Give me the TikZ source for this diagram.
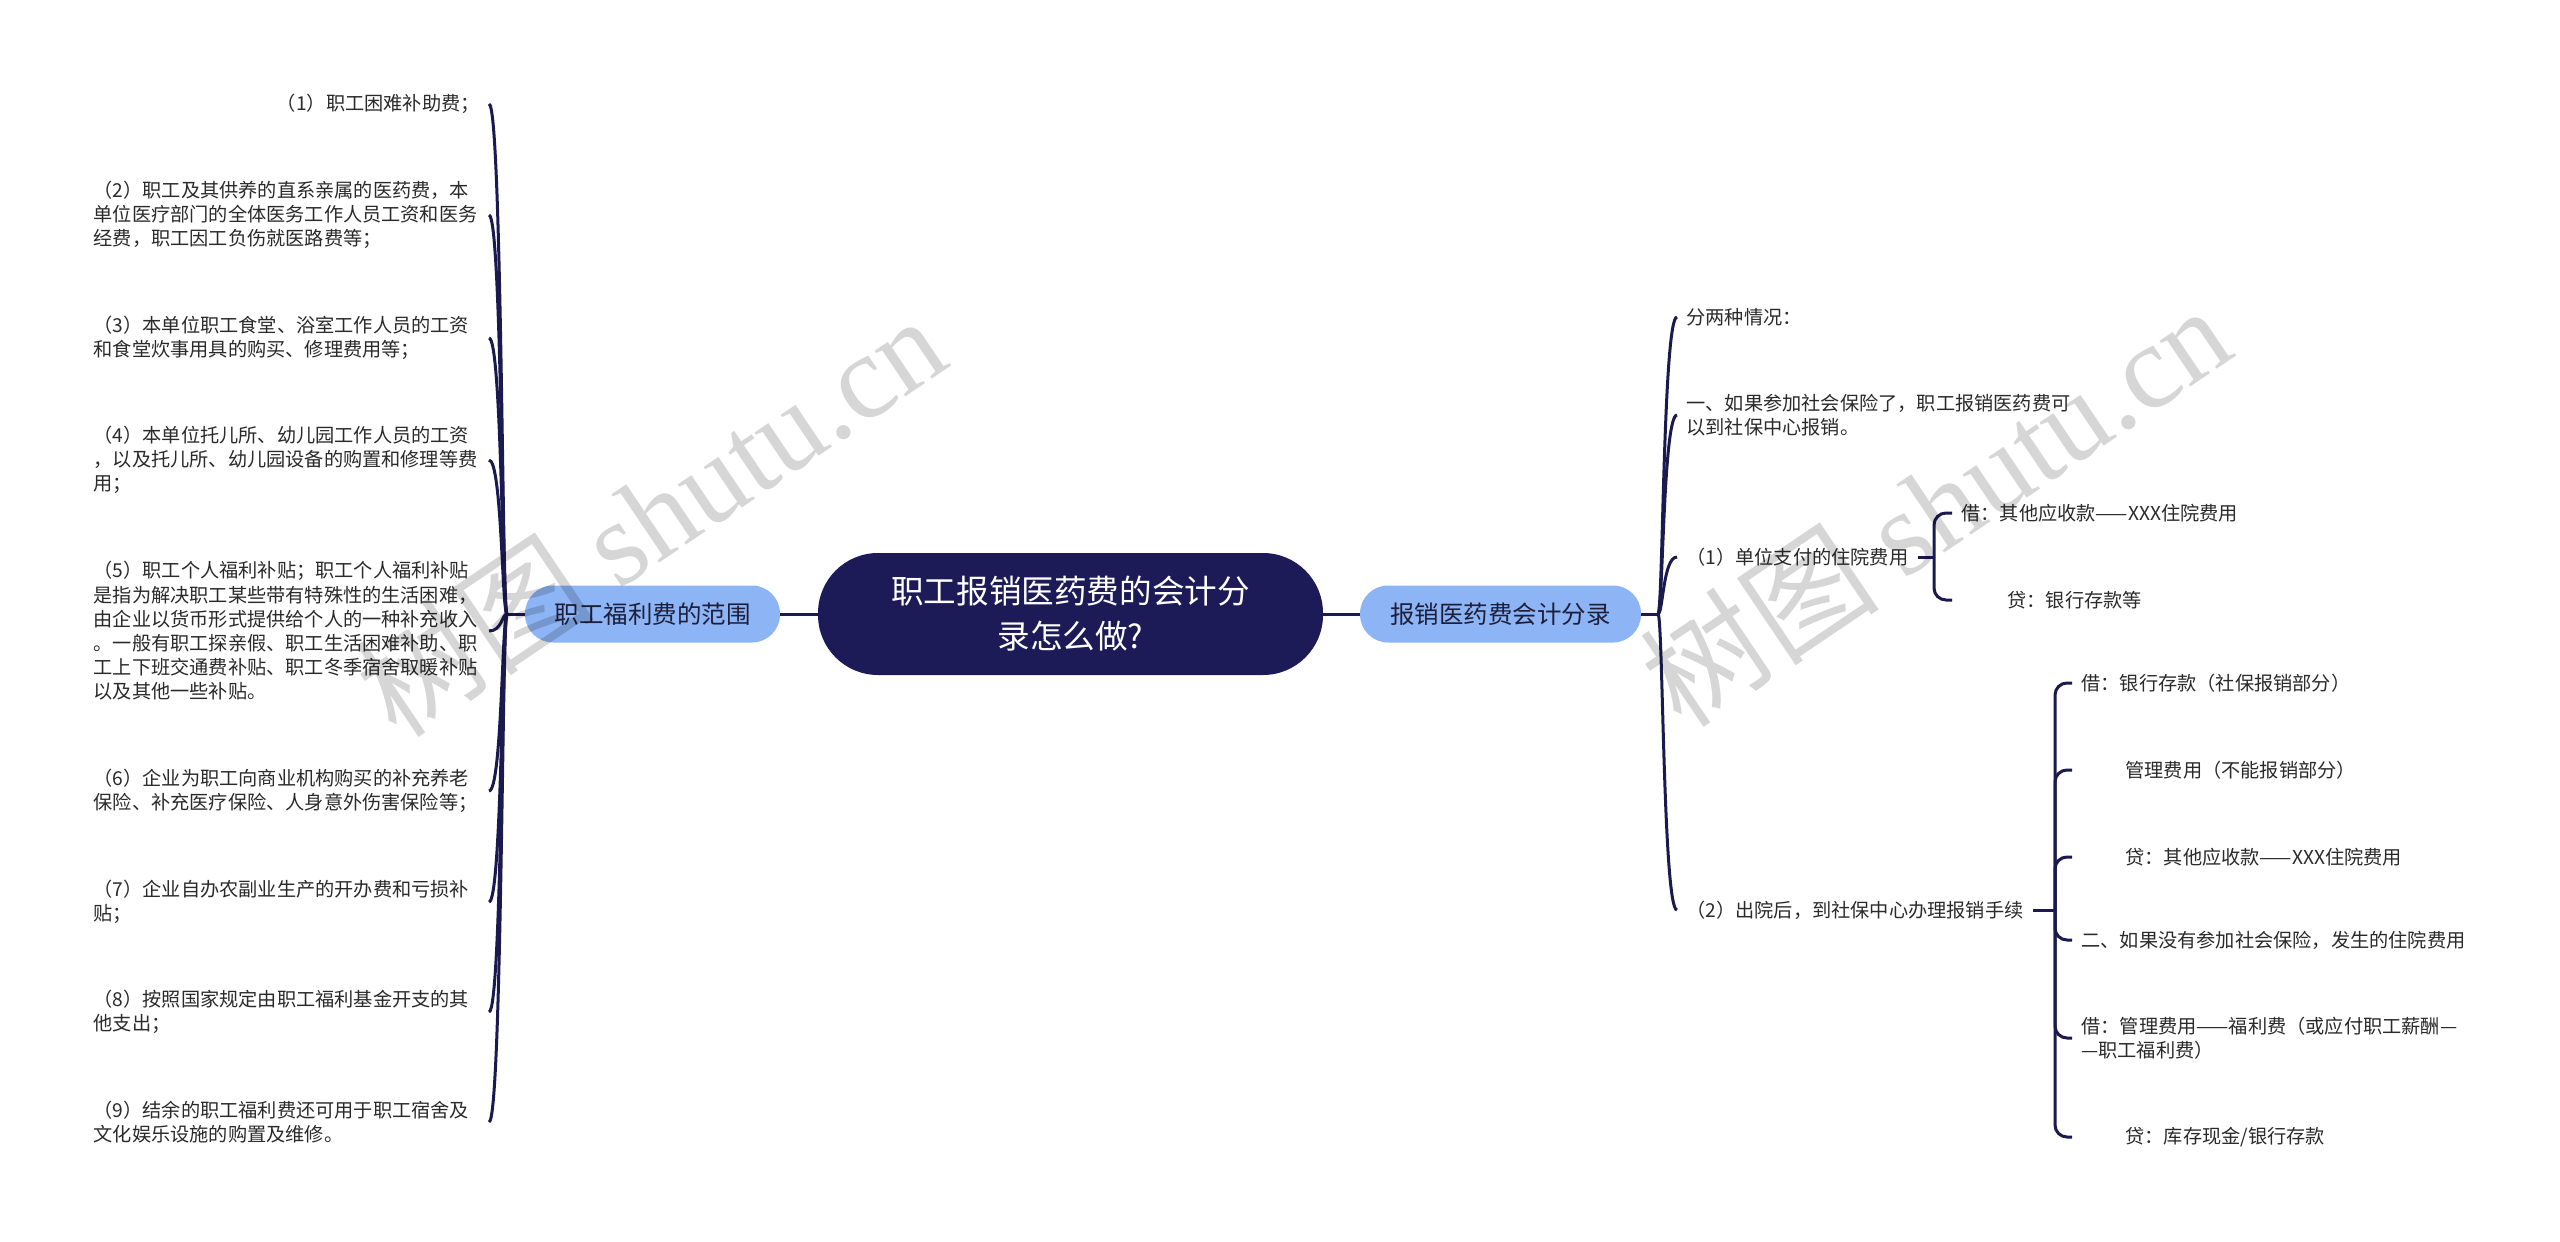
\documentclass[tikz,border=0pt]{standalone}
\usepackage{fontspec}
\setmainfont{Noto Sans CJK SC}
\newfontfamily\wmserif{Liberation Serif}
\usetikzlibrary{calc}
\definecolor{navy}{HTML}{1D1B57}
\definecolor{lineclr}{HTML}{1B1A4E}
\definecolor{branchfill}{HTML}{8DB5F5}
\definecolor{txt}{HTML}{2A2A2A}
\definecolor{btxt}{HTML}{1E1E3A}
\tikzset{
  conn/.style={draw=lineclr, line width=1.5pt},
  leaf/.style={inner xsep=4.5pt, inner ysep=1pt, text=txt, align=left,
    font=\fontsize{9.6pt}{12.1pt}\selectfont},
  leafw/.style={leaf, text width=193pt},
  central/.style={fill=navy, text=white, rounded corners=30pt, minimum width=252.5pt,
    minimum height=61pt, align=center, inner sep=0pt,
    font=\fontsize{16.3pt}{22.5pt}\selectfont},
  branch/.style={fill=branchfill, text=btxt, rounded corners=14pt, minimum height=28.5pt,
    inner sep=0pt, font=\fontsize{12.25pt}{14pt}\selectfont},
  wm/.style={text=black, opacity=0.16, inner sep=0pt, rotate=34,
    font=\fontsize{60pt}{60pt}\selectfont}
}
\begin{document}
\begin{tikzpicture}[x=0.5pt,y=-0.5pt]
\useasboundingbox (0,0) rectangle (2560,1242);
\fill[white] (0,0) rectangle (2560,1242);

% main nodes
\node[central] (root) at (1070.5,614) {职工报销医药费的会计分\\录怎么做?};
\node[branch, minimum width=127.5pt] (lb) at (652.5,614) {职工福利费的范围};
\node[branch, minimum width=140.5pt] (rb) at (1500.5,614) {报销医药费会计分录};
\coordinate (lj) at (507,614);
\coordinate (rj) at (1658,614);

% left leaves
\node[leaf, anchor=east] (L1) at (489,104) {（1）职工困难补助费；};
\node[leafw, anchor=east] (L2) at (489,215) {（2）职工及其供养的直系亲属的医药费，本\\单位医疗部门的全体医务工作人员工资和医务\\经费，职工因工负伤就医路费等；};
\node[leafw, anchor=east] (L3) at (489,338) {（3）本单位职工食堂、浴室工作人员的工资\\和食堂炊事用具的购买、修理费用等；};
\node[leafw, anchor=east] (L4) at (489,460) {（4）本单位托儿所、幼儿园工作人员的工资\\，以及托儿所、幼儿园设备的购置和修理等费\\用；};
\node[leafw, anchor=east] (L5) at (489,631) {（5）职工个人福利补贴；职工个人福利补贴\\是指为解决职工某些带有特殊性的生活困难，\\由企业以货币形式提供给个人的一种补充收入\\。一般有职工探亲假、职工生活困难补助、职\\工上下班交通费补贴、职工冬季宿舍取暖补贴\\以及其他一些补贴。};
\node[leafw, anchor=east] (L6) at (489,791) {（6）企业为职工向商业机构购买的补充养老\\保险、补充医疗保险、人身意外伤害保险等；};
\node[leafw, anchor=east] (L7) at (489,902) {（7）企业自办农副业生产的开办费和亏损补\\贴；};
\node[leafw, anchor=east] (L8) at (489,1012) {（8）按照国家规定由职工福利基金开支的其\\他支出；};
\node[leafw, anchor=east] (L9) at (489,1122) {（9）结余的职工福利费还可用于职工宿舍及\\文化娱乐设施的购置及维修。};

% right leaves
\node[leaf, anchor=west] (R1) at (1677,317) {分两种情况：};
\node[leafw, anchor=west] (R2) at (1677,415) {一、如果参加社会保险了，职工报销医药费可\\以到社保中心报销。};
\node[leaf, anchor=west] (R3) at (1677,557) {（1）单位支付的住院费用};
\node[leaf, anchor=west] (R4) at (1677,910) {（2）出院后，到社保中心办理报销手续};
\coordinate (b1) at (1934,557);
\coordinate (b2) at (2055,910);

\node[leaf, anchor=west] (R3a) at (1952,513) {借：其他应收款——XXX住院费用};
\node[leaf, anchor=west] (R3b) at (1952,600) {\hspace*{23pt}贷：银行存款等};

\node[leaf, anchor=west] (R4a) at (2072,683) {借：银行存款（社保报销部分）};
\node[leaf, anchor=west] (R4b) at (2072,770) {\hspace*{22pt}管理费用（不能报销部分）};
\node[leaf, anchor=west] (R4c) at (2072,857) {\hspace*{22pt}贷：其他应收款——XXX住院费用};
\node[leaf, anchor=west] (R4d) at (2072,940) {二、如果没有参加社会保险，发生的住院费用};
\node[leafw, anchor=west] (R4e) at (2072,1038) {借：管理费用——福利费（或应付职工薪酬—\\—职工福利费）};
\node[leaf, anchor=west] (R4f) at (2072,1137) {\hspace*{22pt}贷：库存现金/银行存款};

% connectors
\draw[conn] (root.west) -- (lb.east);
\draw[conn] (root.east) -- (rb.west);
\draw[conn] (lb.west) -- (lj);
\draw[conn] (rb.east) -- (rj);
\foreach \n in {L1,L2,L3,L4,L5,L6,L7,L8,L9}
  \draw[conn] (lj) .. controls ($(lj)+(-5,0)$) and ($(\n.east -| lj)+(-5,0)$) .. (\n.east);
\foreach \n in {R1,R2,R3,R4}
  \draw[conn] (rj) .. controls ($(rj)+(5,0)$) and ($(\n.west -| rj)+(5,0)$) .. (\n.west);
\draw[conn] (R3.east) -- (b1);
\foreach \n in {R3a,R3b}
  \draw[conn, rounded corners=6pt] (b1) |- (\n.west);
\draw[conn] (R4.east) -- (b2);
\foreach \n in {R4a,R4b,R4c,R4d,R4e,R4f}
  \draw[conn, rounded corners=6pt] (b2) |- (\n.west);

% watermarks
\node[wm] (wm1) at (650,515) {树图 {\wmserif shutu.cn}};
\node[wm] (wm2) at (1935,505) {树图 {\wmserif shutu.cn}};
\end{tikzpicture}
\end{document}
